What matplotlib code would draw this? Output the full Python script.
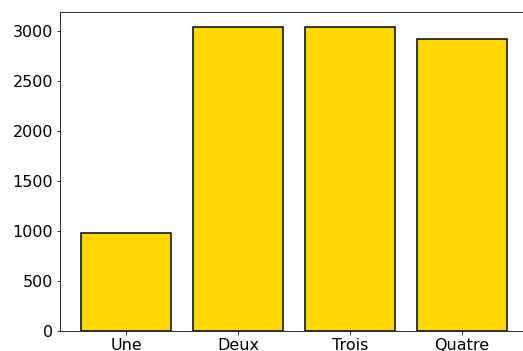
import matplotlib.pyplot as plt

labels = ["Une", "Deux", "Trois", "Quatre"]
values = [985, 3045, 3047, 2920]

fig = plt.figure(figsize=(523 / 72, 351 / 72), dpi=72)
ax = fig.add_axes([60 / 523, 20 / 351, 468 / 523, 319.5 / 351])

ax.bar(labels, values, width=0.8, color="gold", edgecolor="black", linewidth=1.5)
ax.tick_params(labelsize=16)

fig.savefig("out.png", dpi=72)
